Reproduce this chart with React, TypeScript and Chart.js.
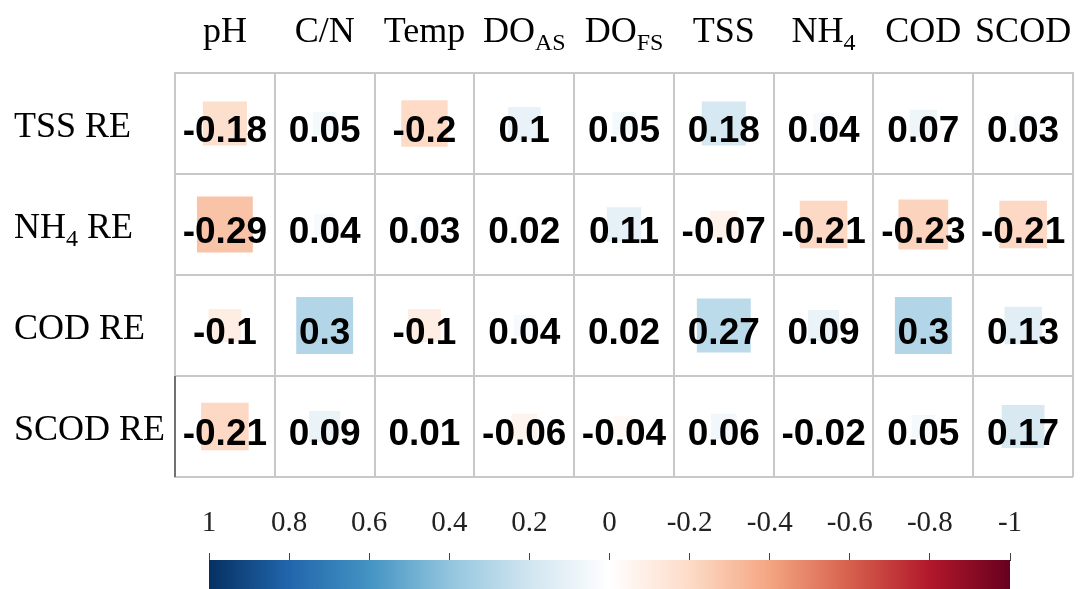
import React, { useEffect, useRef } from "react";
import { Chart, registerables } from "chart.js";

Chart.register(...registerables);

// ---- data ----
const columns = ["pH", "C/N", "Temp", "DO_AS", "DO_FS", "TSS", "NH_4", "COD", "SCOD"];
const columnLabelParts: [string, string][] = [
  ["pH", ""], ["C/N", ""], ["Temp", ""], ["DO", "AS"], ["DO", "FS"],
  ["TSS", ""], ["NH", "4"], ["COD", ""], ["SCOD", ""],
];
const rows = ["TSS RE", "NH4 RE", "COD RE", "SCOD RE"];
const rowLabelParts: [string, string, string][] = [
  ["TSS", "", " RE"], ["NH", "4", " RE"], ["COD", "", " RE"], ["SCOD", "", " RE"],
];
const tssRE = [-0.18, 0.05, -0.2, 0.1, 0.05, 0.18, 0.04, 0.07, 0.03];
const nh4RE = [-0.29, 0.04, 0.03, 0.02, 0.11, -0.07, -0.21, -0.23, -0.21];
const codRE = [-0.1, 0.3, -0.1, 0.04, 0.02, 0.27, 0.09, 0.3, 0.13];
const scodRE = [-0.21, 0.09, 0.01, -0.06, -0.04, 0.06, -0.02, 0.05, 0.17];
const matrix = [tssRE, nh4RE, codRE, scodRE];
const colorbarTicks = [1, 0.8, 0.6, 0.4, 0.2, 0, -0.2, -0.4, -0.6, -0.8, -1];
// RdBu palette from +1 (blue) to -1 (red)
const rdbu = ["#053061", "#2166AC", "#4393C3", "#92C5DE", "#D1E5F0", "#FFFFFF",
  "#FDDBC7", "#F4A582", "#D6604D", "#B2182B", "#67001F"];

function hexToRgb(h: string) {
  const n = parseInt(h.slice(1), 16);
  return [(n >> 16) & 255, (n >> 8) & 255, n & 255];
}
function colorFor(v: number) {
  const t = ((1 - v) / 2) * (rdbu.length - 1);
  const i = Math.min(Math.floor(t), rdbu.length - 2);
  const f = t - i;
  const a = hexToRgb(rdbu[i]);
  const b = hexToRgb(rdbu[i + 1]);
  const c = a.map((x, k) => Math.round(x + (b[k] - x) * f));
  return `rgb(${c[0]},${c[1]},${c[2]})`;
}

const SERIF = "'Liberation Serif', 'Times New Roman', serif";
const SANS = "'Liberation Sans', Arial, sans-serif";

function drawSub(ctx: CanvasRenderingContext2D, x: number, y: number, main: string, sub: string, tail: string,
  size: number, subSize: number, align: "left" | "center") {
  ctx.font = `${size}px ${SERIF}`;
  const w1 = ctx.measureText(main).width;
  const w3 = ctx.measureText(tail).width;
  ctx.font = `${subSize}px ${SERIF}`;
  const w2 = sub ? ctx.measureText(sub).width : 0;
  const total = w1 + w2 + w3;
  let sx = align === "center" ? x - total / 2 : x;
  ctx.textAlign = "left";
  ctx.textBaseline = "alphabetic";
  ctx.font = `${size}px ${SERIF}`;
  ctx.fillText(main, sx, y);
  sx += w1;
  if (sub) {
    ctx.font = `${subSize}px ${SERIF}`;
    ctx.fillText(sub, sx, y + 8);
    sx += w2;
  }
  if (tail) {
    ctx.font = `${size}px ${SERIF}`;
    ctx.fillText(tail, sx, y);
  }
}

const labelPlugin = {
  id: "corrLabels",
  afterDraw(chart: any) {
    const ctx: CanvasRenderingContext2D = chart.ctx;
    const xs = chart.scales.x;
    const ys = chart.scales.y;
    ctx.save();
    // dark left edge segment on the last row (as in the source image)
    const rowH = (chart.chartArea.bottom - chart.chartArea.top) / rows.length;
    const lastY = ys.getPixelForValue(rows.length - 1);
    ctx.strokeStyle = "#555";
    ctx.lineWidth = 1.5;
    ctx.beginPath();
    ctx.moveTo(chart.chartArea.left, lastY - rowH / 2);
    ctx.lineTo(chart.chartArea.left, lastY + rowH / 2);
    ctx.stroke();

    ctx.fillStyle = "#000";
    // values
    ctx.font = `bold 37px ${SANS}`;
    ctx.textAlign = "center";
    ctx.textBaseline = "alphabetic";
    matrix.forEach((row, r) => {
      row.forEach((v, c) => {
        ctx.fillText(String(v), xs.getPixelForValue(c), ys.getPixelForValue(r) + 18);
      });
    });
    // column headers
    columnLabelParts.forEach(([m, s], c) => {
      drawSub(ctx, xs.getPixelForValue(c), 42, m, s, "", 36, 24, "center");
    });
    // row labels
    rowLabelParts.forEach(([m, s, t], r) => {
      drawSub(ctx, 14, ys.getPixelForValue(r) + 13, m, s, t, 36, 24, "left");
    });
    ctx.restore();
  },
};

export default function App() {
  const mainRef = useRef<HTMLCanvasElement>(null);
  const barRef = useRef<HTMLCanvasElement>(null);

  useEffect(() => {
    const points: any[] = [];
    matrix.forEach((row, r) =>
      row.forEach((v, c) => points.push({ x: columns[c], y: rows[r], v }))
    );
    const main = new Chart(mainRef.current!, {
      type: "scatter",
      data: {
        datasets: [
          {
            data: points,
            pointStyle: "rect",
            borderWidth: 0,
            backgroundColor: (ctx: any) => colorFor(ctx.raw ? ctx.raw.v : 0),
            pointRadius: (ctx: any) => {
              const area = ctx.chart.chartArea;
              if (!area || !ctx.raw) return 0;
              const cell = (area.right - area.left) / columns.length;
              const side = cell * Math.sqrt(Math.abs(ctx.raw.v)) * 1.04;
              return side / (2 * Math.SQRT1_2);
            },
          } as any,
        ],
      },
      options: {
        responsive: false,
        animation: false,
        events: [],
        layout: { padding: { left: 175, top: 73, right: 9, bottom: 112 } },
        plugins: { legend: { display: false }, tooltip: { enabled: false } },
        scales: {
          x: {
            type: "category",
            labels: columns,
            position: "top",
            offset: true,
            ticks: { display: false },
            grid: { offset: true, color: "#c8c8c8", lineWidth: 2, drawTicks: false },
            border: { display: true, color: "#c8c8c8", width: 2 },
            afterFit: (s: any) => { s.height = 0; },
          },
          y: {
            type: "category",
            labels: rows,
            position: "left",
            offset: true,
            ticks: { display: false },
            grid: { offset: true, color: "#c8c8c8", lineWidth: 2, drawTicks: false },
            border: { display: true, color: "#c8c8c8", width: 2 },
            afterFit: (s: any) => { s.width = 0; },
          },
        } as any,
      },
      plugins: [labelPlugin],
    });

    const bar = new Chart(barRef.current!, {
      type: "bar",
      data: {
        labels: ["cb"],
        datasets: [
          {
            data: [[-1, 1]] as any,
            borderWidth: 0,
            barPercentage: 1,
            categoryPercentage: 1,
            backgroundColor: (ctx: any) => {
              const chart = ctx.chart;
              const xs = chart.scales.x;
              if (!chart.chartArea || !xs) return "#fff";
              const x0 = xs.getPixelForValue(1);
              const x1 = xs.getPixelForValue(-1);
              const g = chart.ctx.createLinearGradient(x0, 0, x1, 0);
              rdbu.forEach((c, i) => g.addColorStop(i / (rdbu.length - 1), c));
              return g;
            },
          },
        ],
      },
      options: {
        responsive: false,
        animation: false,
        events: [],
        indexAxis: "y",
        layout: { padding: { left: 209, right: 72, top: 0, bottom: 0 } },
        plugins: { legend: { display: false }, tooltip: { enabled: false } },
        scales: {
          x: {
            type: "linear",
            min: -1,
            max: 1,
            reverse: true,
            position: "top",
            afterBuildTicks: (s: any) => { s.ticks = colorbarTicks.map((v) => ({ value: v })); },
            ticks: {
              callback: (v: any) => String(Math.round(Number(v) * 10) / 10),
              font: { family: SERIF, size: 29 },
              color: "#222",
              padding: 12,
              maxRotation: 0,
              autoSkip: false,
            },
            grid: { drawOnChartArea: false, drawTicks: true, tickLength: 7, color: "#444", lineWidth: 1 },
            border: { display: true, color: "#333", width: 1 },
            afterFit: (s: any) => { s.height = 80; },
          },
          y: { display: false },
        } as any,
      },
    });

    return () => {
      main.destroy();
      bar.destroy();
    };
  }, []);

  return (
    <div style={{ position: "fixed", left: 0, top: 0, width: 1082, height: 589, overflow: "hidden", background: "#fff" }}>
      <canvas ref={mainRef} width={1082} height={589} style={{ position: "absolute", left: 0, top: 0 }} />
      <canvas ref={barRef} width={1082} height={150} style={{ position: "absolute", left: 0, top: 480 }} />
    </div>
  );
}
